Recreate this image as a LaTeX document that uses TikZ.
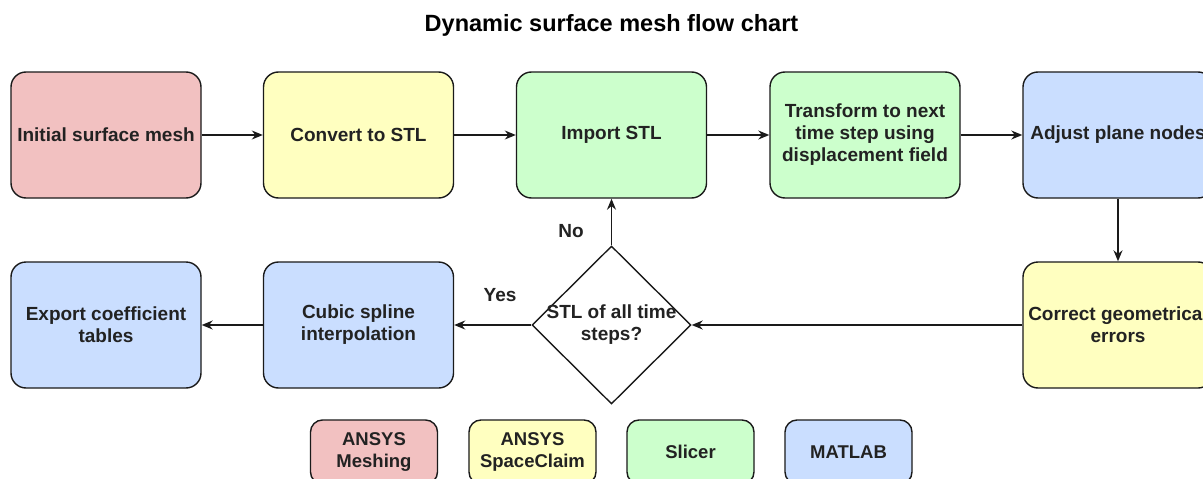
\documentclass[tikz,border=0pt]{standalone}
\usepackage{fontspec}
\setmainfont{Liberation Sans}
\usetikzlibrary{arrows.meta,shapes.geometric}
\definecolor{cpink}{HTML}{F2C1C1}
\definecolor{cyellow}{HTML}{FFFFC0}
\definecolor{cgreen}{HTML}{CCFFCC}
\definecolor{cblue}{HTML}{CADEFF}
\definecolor{cline}{HTML}{1A1A1A}
\definecolor{ctext}{HTML}{222222}
\tikzset{
  box/.style={draw=cline, line width=1.4pt, rounded corners=15pt, minimum width=190pt, minimum height=126pt, inner sep=0pt, align=center, text=ctext, font=\fontsize{19}{22}\selectfont\bfseries},
  legendbox/.style={draw=cline, line width=1.4pt, rounded corners=12pt, minimum width=127pt, minimum height=64pt, inner sep=0pt, align=center, text=ctext, font=\fontsize{18.5}{22}\selectfont\bfseries},
  decision/.style={draw=cline, line width=1.4pt, diamond, aspect=1, minimum width=159pt, minimum height=158pt, inner sep=0pt},
  conn/.style={draw=cline, line width=1.4pt, -{Stealth[length=11pt,width=9pt]}},
  lbl/.style={text=ctext, font=\fontsize{19}{22}\selectfont\bfseries}
}
\begin{document}
\begin{tikzpicture}[x=1pt,y=-1pt]
\useasboundingbox (0,0) rectangle (1203,479);
\fill[white] (0,0) rectangle (1203,479);
\node[font=\fontsize{23.5}{26}\selectfont\bfseries, text=black] (title) at (611.5,25) {Dynamic surface mesh flow chart};
% row 1
\node[box, fill=cpink] (init) at (106,135) {Initial surface mesh};
\node[box, fill=cyellow] (conv) at (358.5,135) {Convert to STL};
\node[box, fill=cgreen] (imp) at (611.5,135) {Import STL};
\node[box, fill=cgreen] (trans) at (865,135) {Transform to next\\time step using\\displacement field};
\node[box, fill=cblue] (adj) at (1118,135) {Adjust plane nodes};
% row 2
\node[box, fill=cblue] (exp) at (106,325) {Export coefficient\\tables};
\node[box, fill=cblue] (cub) at (358.5,325) {Cubic spline\\interpolation};
\node[decision, label={[align=center, text=ctext, font=\fontsize{19}{22}\selectfont\bfseries]center:STL of all time\\steps?}] (dec) at (611.5,325) {};
\node[box, fill=cyellow] (corr) at (1118,325) {Correct geometrical\\errors};
% legend
\node[legendbox, fill=cpink] (l1) at (374,452) {ANSYS\\Meshing};
\node[legendbox, fill=cyellow] (l2) at (532.5,452) {ANSYS\\SpaceClaim};
\node[legendbox, fill=cgreen] (l3) at (690.5,452) {Slicer};
\node[legendbox, fill=cblue] (l4) at (848.5,452) {MATLAB};
% connectors
\draw[conn] (init) -- (conv);
\draw[conn] (conv) -- (imp);
\draw[conn] (imp) -- (trans);
\draw[conn] (trans) -- (adj);
\draw[conn] (adj) -- (corr);
\draw[conn] (corr) -- (dec);
\draw[conn] (dec) -- (cub);
\draw[conn] (cub) -- (exp);
\draw[conn] (dec) -- (imp);
\node[lbl] (no) at (571,231) {No};
\node[lbl] (yes) at (500,295) {Yes};
\end{tikzpicture}
\end{document}
